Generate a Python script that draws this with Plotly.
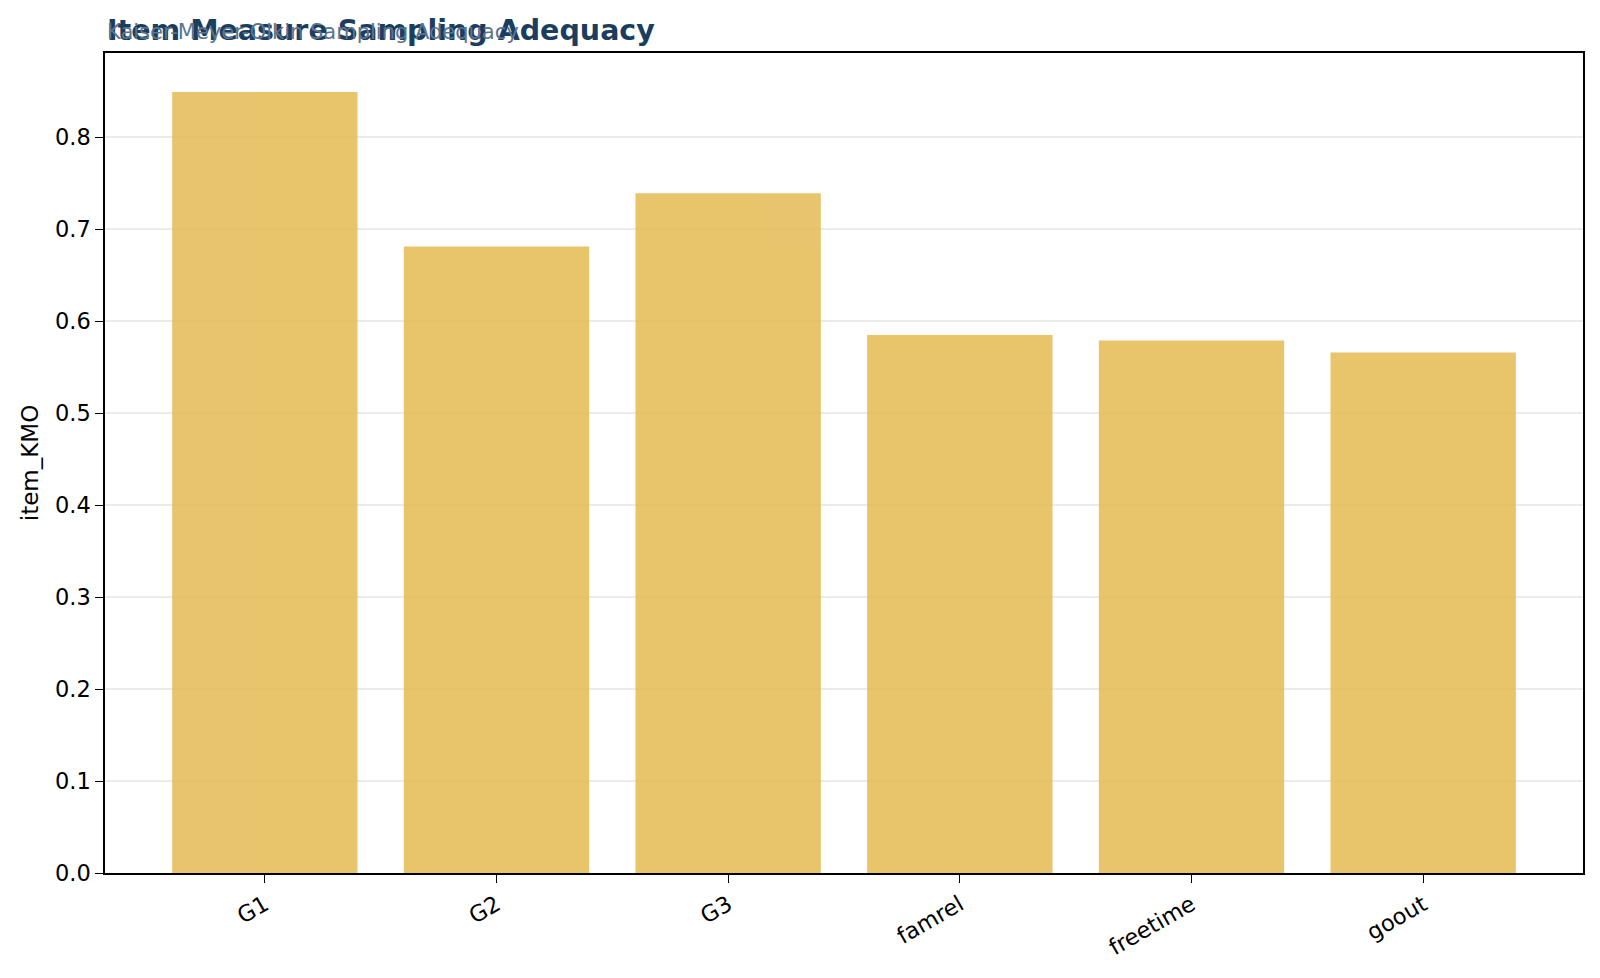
import plotly.graph_objects as go

# Valores (KMO por item)
itens = ["G1", "G2", "G3", "famrel", "freetime", "goout"]
item_kmo = [0.849, 0.681, 0.739, 0.585, 0.579, 0.566]
y_ticks = [0.0, 0.1, 0.2, 0.3, 0.4, 0.5, 0.6, 0.7, 0.8]

fig = go.Figure()
fig.add_trace(go.Bar(
    x=list(range(len(itens))),
    y=item_kmo,
    width=0.8,
    opacity=0.85,
    marker=dict(color="#E4BA52", line=dict(width=0)),
))

eixo = dict(
    showline=True, linecolor="black", linewidth=1.5, mirror=True,
    ticks="outside", ticklen=8, tickcolor="black", tickwidth=1.3,
    tickfont=dict(family="DejaVu Sans", size=22.5, color="black"),
    zeroline=False, automargin=False,
)

fig.update_layout(
    width=1600, height=978,
    margin=dict(l=105, r=17, t=53, b=105),
    plot_bgcolor="white", paper_bgcolor="white",
    showlegend=False,
    xaxis=dict(eixo, range=[-0.69, 5.69], tickvals=list(range(len(itens))),
               ticktext=itens, tickangle=-30, showgrid=False),
    yaxis=dict(eixo, range=[0, 0.8915], tickvals=y_ticks,
               ticktext=[f"{v:.1f}" for v in y_ticks],
               showgrid=True, gridcolor="#ebebeb", gridwidth=1.5,
               title=dict(text="item_KMO", standoff=10,
                          font=dict(family="DejaVu Sans", size=23, color="black"))),
)

# Título e subtítulo (sobrepostos como no original)
fig.add_annotation(
    text="<b>Item Measure Sampling Adequacy</b>", xref="paper", yref="paper",
    x=0, y=1 + 22 / 820, xanchor="left", yanchor="middle", showarrow=False,
    font=dict(family="DejaVu Sans", size=28.5, color="#1b3d5e"),
)
fig.add_annotation(
    text="Kaiser-Meyer-Olkin Sampling Adequacy", xref="paper", yref="paper",
    x=0, y=1 + 21 / 820, xanchor="left", yanchor="middle", showarrow=False,
    font=dict(family="DejaVu Sans", size=21, color="#5a7590"),
)

fig.write_html("out.html", config={"displayModeBar": False},
               post_script="document.body.style.margin='0';")
